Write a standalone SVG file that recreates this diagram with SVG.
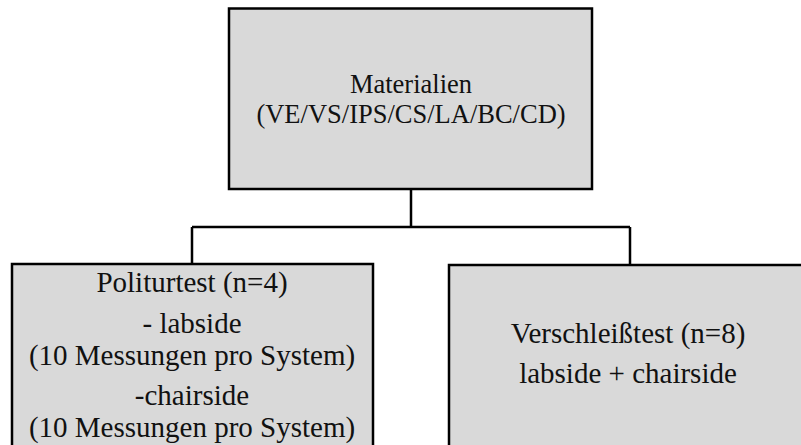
<svg xmlns="http://www.w3.org/2000/svg" width="801" height="445" viewBox="0 0 801 445">
<style>
.box{fill:#d9d9d9;stroke:#000;stroke-width:2.5}
.t{font-family:"Liberation Serif",serif;font-size:29px;fill:#111;text-anchor:middle}
.top{font-size:26.5px}
.c{fill:none;stroke:#000;stroke-width:2.5}
</style>
<rect width="801" height="445" fill="#fff"/>
<g id="connectors">
<path class="c" d="M411 189V227M192 227H630M192 227V264M630 227V265"/>
</g>
<g id="materialien">
<rect class="box" x="229" y="8.5" width="363" height="180.5"/>
<text class="t top" x="411" y="93">Materialien</text>
<text class="t top" x="411" y="123">(VE/VS/IPS/CS/LA/BC/CD)</text>
</g>
<g id="politurtest">
<rect class="box" x="12" y="264" width="361" height="200"/>
<text class="t" x="192" y="292">Politurtest (n=4)</text>
<text class="t" x="192" y="333">- labside</text>
<text class="t" x="192" y="365">(10 Messungen pro System)</text>
<text class="t" x="192" y="405">-chairside</text>
<text class="t" x="192" y="437">(10 Messungen pro System)</text>
</g>
<g id="verschleisstest">
<rect class="box" x="449" y="265" width="360" height="200"/>
<text class="t" x="628" y="343">Verschleißtest (n=8)</text>
<text class="t" x="628" y="383">labside + chairside</text>
</g>
</svg>
